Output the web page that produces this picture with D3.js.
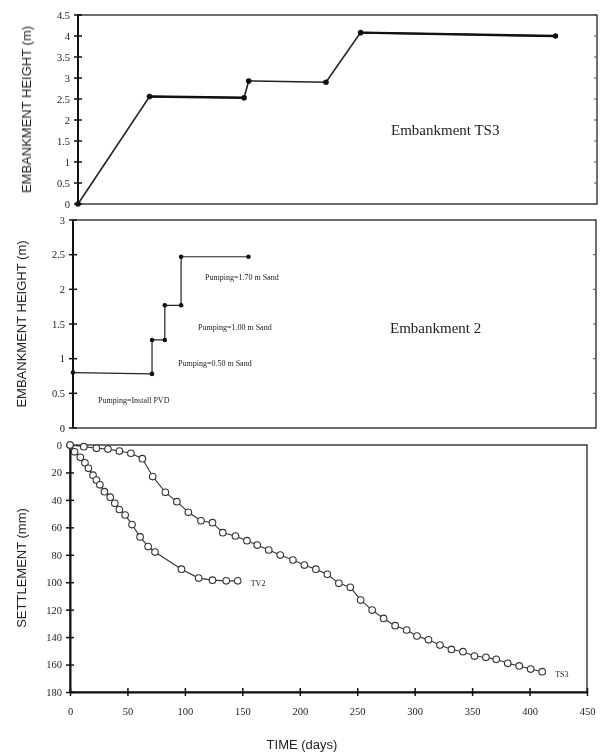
<!DOCTYPE html>
<html>
<head>
<meta charset="utf-8">
<script src="https://cdn.jsdelivr.net/npm/d3@7"></script>
<style>
  body { margin: 0; background: #fff; }
  svg { display: block; }
  text { will-change: transform; }
  .tick-label { font-family: "Liberation Serif", "DejaVu Serif", serif; font-size: 10.5px; fill: #222; }
  .axis-title { font-family: "Liberation Sans", Arial, sans-serif; font-size: 13px; fill: #222; }
  .note { font-family: "Liberation Serif", serif; font-size: 8px; fill: #222; }
  .panel-title { font-family: "Liberation Serif", serif; font-size: 15px; fill: #222; }
</style>
</head>
<body>
<svg id="chart" width="600" height="755"></svg>
<script>
// time axis
const timeTicks = [0, 50, 100, 150, 200, 250, 300, 350, 400, 450];

// Embankment TS3 fill history
const ts3FillDays = [0, 62, 144, 148, 215, 245, 414];
const ts3FillHeight = [0, 2.56, 2.53, 2.93, 2.9, 4.08, 4.0];
const ts3HeightTicks = [0, 0.5, 1, 1.5, 2, 2.5, 3, 3.5, 4, 4.5];

// Embankment 2 fill history
const emb2FillDays = [0, 68, 68, 79, 79, 93, 93, 151];
const emb2FillHeight = [0.8, 0.78, 1.27, 1.27, 1.77, 1.77, 2.47, 2.47];
const emb2HeightTicks = [0, 0.5, 1, 1.5, 2, 2.5, 3];
const emb2Notes = ['Pumping=1.70 m Sand', 'Pumping=1.00 m Sand', 'Pumping=0.50 m Sand', 'Pumping=Install PVD'];

// settlement
const tv2Days = [0, 4, 9, 13, 16, 20, 23, 26, 30, 35, 39, 43, 48, 54, 61, 68, 74, 97, 112, 124, 136, 146];
const tv2Settle = [0, 5, 9, 13, 17, 22, 25.5, 29, 34, 38, 42.5, 47, 51, 58, 67, 74, 78, 90.5, 97, 98.5, 99, 99];
const ts3Days = [0, 12, 23, 33, 43, 53, 63, 72, 83, 93, 103, 114, 124, 133, 144, 154, 163, 173, 183, 194,
    204, 214, 224, 234, 244, 253, 263, 273, 283, 293, 302, 312, 322, 332, 342, 352, 362, 371, 381, 391, 401, 411];
const ts3Settle = [0, 1.2, 2.4, 3, 4.4, 6, 10, 23, 34.5, 41.3, 49, 55.2, 56.6, 63.9, 66.3, 69.7, 72.9, 76.5, 80.2, 83.8,
    87.5, 90.5, 94.2, 100.8, 103.7, 113, 120.3, 126.4, 131.7, 134.8, 139.2, 142, 145.8, 149, 150.6, 153.8, 154.7, 156.2, 159.1, 161, 163.3, 165.2];
const settleTicks = [0, 20, 40, 60, 80, 100, 120, 140, 160, 180];

const svg = d3.select('#chart');

function drawPanel(cfg) {
    const x = d3.scaleLinear().domain([0, 450]).range([cfg.left, cfg.right]);
    const y = d3.scaleLinear().domain(cfg.yDomain).range([cfg.bottom, cfg.top]);
    const g = svg.append('g').attr('class', cfg.name);

    // frame
    g.append('rect')
        .attr('x', cfg.left).attr('y', cfg.top)
        .attr('width', cfg.right - cfg.left)
        .attr('height', cfg.bottom - cfg.top)
        .attr('fill', 'none').attr('stroke', '#222').attr('stroke-width', 1.3);

    // left axis line, thicker
    g.append('line')
        .attr('x1', cfg.left).attr('x2', cfg.left)
        .attr('y1', cfg.top).attr('y2', cfg.bottom)
        .attr('stroke', '#111').attr('stroke-width', 2);

    // y ticks crossing the axis
    const yt = g.append('g').selectAll('g').data(cfg.yTicks).enter().append('g');
    yt.append('line')
        .attr('x1', cfg.left - 4).attr('x2', cfg.left + 4)
        .attr('y1', d => y(d)).attr('y2', d => y(d))
        .attr('stroke', '#111').attr('stroke-width', 1.5);
    yt.append('line')
        .attr('x1', cfg.right - 3).attr('x2', cfg.right)
        .attr('y1', d => y(d)).attr('y2', d => y(d))
        .attr('stroke', '#555').attr('stroke-width', 1);
    yt.append('text')
        .attr('class', 'tick-label')
        .attr('x', cfg.left - 8).attr('y', d => y(d))
        .attr('dy', '0.35em').attr('text-anchor', 'end')
        .text(d => d);

    // y title
    g.append('text')
        .attr('class', 'axis-title')
        .attr('transform', `translate(${cfg.titleX},${(cfg.top + cfg.bottom) / 2}) rotate(-90)`)
        .attr('text-anchor', 'middle')
        .text(cfg.yTitle);

    return { g, x, y };
}

// ---- top panel
const p1 = drawPanel({
    name: 'ts3-height', left: 78, right: 597, top: 15, bottom: 204,
    yDomain: [0, 4.5], yTicks: ts3HeightTicks, yTitle: 'EMBANKMENT HEIGHT (m)', titleX: 31
});
const ts3Fill = ts3FillDays.map((d, i) => [d, ts3FillHeight[i]]);
const line1 = d3.line().x(d => p1.x(d[0])).y(d => p1.y(d[1]));
p1.g.append('path')
    .attr('d', line1(ts3Fill))
    .attr('fill', 'none').attr('stroke', '#222').attr('stroke-width', 1.6);
p1.g.append('path')
    .attr('d', line1(ts3Fill.slice(1, 3)))
    .attr('fill', 'none').attr('stroke', '#111').attr('stroke-width', 2.4);
p1.g.append('path')
    .attr('d', line1(ts3Fill.slice(5)))
    .attr('fill', 'none').attr('stroke', '#111').attr('stroke-width', 2.4);
p1.g.selectAll('circle').data(ts3Fill).enter().append('circle')
    .attr('cx', d => p1.x(d[0])).attr('cy', d => p1.y(d[1]))
    .attr('r', 2.8).attr('fill', '#111');
p1.g.append('text').attr('class', 'panel-title')
    .attr('x', 391).attr('y', 135).text('Embankment TS3');

// ---- middle panel
const p2 = drawPanel({
    name: 'emb2-height', left: 73, right: 596, top: 220, bottom: 428,
    yDomain: [0, 3], yTicks: emb2HeightTicks, yTitle: 'EMBANKMENT HEIGHT (m)', titleX: 26
});
const emb2Fill = emb2FillDays.map((d, i) => [d, emb2FillHeight[i]]);
p2.g.append('path')
    .attr('d', d3.line().x(d => p2.x(d[0])).y(d => p2.y(d[1]))(emb2Fill))
    .attr('fill', 'none').attr('stroke', '#222').attr('stroke-width', 1.2);
p2.g.selectAll('circle').data(emb2Fill).enter().append('circle')
    .attr('cx', d => p2.x(d[0])).attr('cy', d => p2.y(d[1]))
    .attr('r', 2.3).attr('fill', '#111');
const notePos = [[205, 280], [198, 330], [178, 366], [98, 403]];
p2.g.selectAll('text.note').data(emb2Notes).enter().append('text')
    .attr('class', 'note')
    .attr('x', (d, i) => notePos[i][0]).attr('y', (d, i) => notePos[i][1])
    .text(d => d);
p2.g.append('text').attr('class', 'panel-title')
    .attr('x', 390).attr('y', 333).attr('font-size', 14).text('Embankment 2');

// ---- bottom panel
const xB = d3.scaleLinear().domain([0, 450]).range([70, 587]);
const yB = d3.scaleLinear().domain([0, 180]).range([445, 692]);
const gB = svg.append('g').attr('class', 'settlement');

gB.append('rect')
    .attr('x', 70).attr('y', 445).attr('width', 517).attr('height', 247)
    .attr('fill', 'none').attr('stroke', '#222').attr('stroke-width', 1.3);

const yAxisB = d3.axisLeft(yB).tickValues(settleTicks).tickSize(4).tickSizeOuter(0);
const yAxisG = gB.append('g').attr('transform', 'translate(70,0)').call(yAxisB);
const xAxisB = d3.axisBottom(xB).tickValues(timeTicks).tickSize(4).tickSizeOuter(0);
const xAxisG = gB.append('g').attr('transform', 'translate(0,692)').call(xAxisB);
[yAxisG, xAxisG].forEach(a => {
    a.select('.domain').attr('stroke', '#111').attr('stroke-width', 2);
    a.selectAll('.tick line').attr('stroke', '#111').attr('stroke-width', 1.5);
    a.selectAll('.tick text').attr('class', 'tick-label').attr('fill', '#222');
});
yAxisG.selectAll('.tick line').attr('x1', 4);
yAxisG.selectAll('.tick text').attr('x', -8);
xAxisG.selectAll('.tick line').attr('y1', -4);
xAxisG.selectAll('.tick text').attr('y', 16);

gB.append('text').attr('class', 'axis-title')
    .attr('transform', 'translate(26,568) rotate(-90)')
    .attr('text-anchor', 'middle').text('SETTLEMENT (mm)');
gB.append('text').attr('class', 'axis-title')
    .attr('x', 302).attr('y', 749).attr('text-anchor', 'middle')
    .attr('font-size', 12).text('TIME (days)');

const settleLine = d3.line().x(d => xB(d[0])).y(d => yB(d[1]));
const series = [
    { name: 'TS3', pts: ts3Days.map((d, i) => [d, ts3Settle[i]]) },
    { name: 'TV2', pts: tv2Days.map((d, i) => [d, tv2Settle[i]]) }
];
series.forEach(s => {
    gB.append('path').attr('d', settleLine(s.pts))
        .attr('fill', 'none').attr('stroke', '#333').attr('stroke-width', 1.1);
    gB.append('g').selectAll('circle').data(s.pts).enter().append('circle')
        .attr('cx', d => xB(d[0])).attr('cy', d => yB(d[1]))
        .attr('r', 3.3).attr('fill', '#fff')
        .attr('stroke', '#333').attr('stroke-width', 1.1);
    const last = s.pts[s.pts.length - 1];
    gB.append('text').attr('class', 'note')
        .attr('x', xB(last[0]) + 13).attr('y', yB(last[1]) + 5)
        .attr('font-size', s.name === 'TV2' ? 10 : 8)
        .text(s.name);
});
</script>
</body>
</html>
